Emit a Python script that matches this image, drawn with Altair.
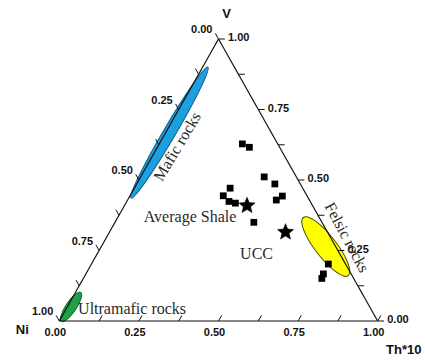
import math
import altair as alt
import pandas as pd

# ---- data (ternary fractions; Ni = 1 - Th*10 - V) ----
sample_th = [0.261, 0.289, 0.388, 0.434, 0.301, 0.293, 0.479, 0.467, 0.321, 0.344, 0.436, 0.744, 0.746, 0.749]
sample_v = [0.628, 0.616, 0.511, 0.486, 0.471, 0.444, 0.443, 0.429, 0.424, 0.418, 0.350, 0.202, 0.167, 0.151]

ref_names = ["Average Shale", "UCC"]
ref_th = [0.385, 0.553]
ref_v = [0.409, 0.315]

field_names = ["Mafic rocks", "Felsic rocks", "Ultramafic rocks"]
field_th = [0.012, 0.705, 0.012]
field_v = [0.668, 0.264, 0.050]

tick_values = [0.0, 0.125, 0.25, 0.375, 0.5, 0.625, 0.75, 0.875, 1.0]
label_values = [0.0, 0.25, 0.5, 0.75, 1.0]
axis_titles = ["V", "Ni", "Th*10"]
vertex_th = [0.0, 0.0, 1.0]
vertex_v = [1.0, 0.0, 0.0]

# ---- scales ----
XS = alt.Scale(domain=[-0.18625, 1.14855], nice=False, zero=False)
YS = alt.Scale(domain=[-0.14184, 1.13830], nice=False, zero=False)
XCALC = "datum.th + datum.v / 2"


def X(f="x"):
    return alt.X(f"{f}:Q", scale=XS, axis=None)


def Y(f="y"):
    return alt.Y(f"{f}:Q", scale=YS, axis=None)


TICKFONT = dict(font="Liberation Sans", fontSize=11, fontWeight="bold", color="#111")
SERIF = dict(font="Liberation Serif", fontSize=16, color="#2a2a2a")


def ellipse_path(r):
    k = 0.5523
    kr = k * r
    return (f"M-1,0 C-1,{-kr:.4f} {-k},{-r:.4f} 0,{-r:.4f} C{k},{-r:.4f} 1,{-kr:.4f} 1,0 "
            f"C1,{kr:.4f} {k},{r:.4f} 0,{r:.4f} C{-k},{r:.4f} -1,{kr:.4f} -1,0 Z")


def star_path(inner):
    pts = []
    for i in range(10):
        a = math.radians(-90 + 36 * i)
        rr = 1.0 if i % 2 == 0 else inner
        pts.append(f"{rr * math.cos(a):.4f},{rr * math.sin(a):.4f}")
    return "M" + " L".join(pts) + " Z"


def rot_offset(sx, sy, angle):
    t = math.radians(angle)
    return sx * math.cos(t) + sy * math.sin(t), -sx * math.sin(t) + sy * math.cos(t)


fields = pd.DataFrame({"name": field_names, "th": field_th, "v": field_v})
base_f = alt.Chart(fields).transform_calculate(x=XCALC, y="datum.v")

mafic = base_f.transform_filter("datum.name == 'Mafic rocks'").mark_point(
    shape=ellipse_path(0.08), size=23100, angle=300.4, filled=True,
    fill="#1E9FE0", stroke="#0B5C8C", strokeWidth=1, opacity=1
).encode(x=X(), y=Y())
felsic = base_f.transform_filter("datum.name == 'Felsic rocks'").mark_point(
    shape=ellipse_path(0.29), size=5400, angle=52.3, filled=True,
    fill="#FFFF00", stroke="#4a4a10", strokeWidth=1, opacity=1
).encode(x=X(), y=Y())
ultra = base_f.transform_filter("datum.name == 'Ultramafic rocks'").mark_point(
    shape=ellipse_path(0.3), size=1220, angle=303.6, filled=True,
    fill="#20A046", stroke="#137030", strokeWidth=1, opacity=1
).encode(x=X(), y=Y())

# triangle edges
edges = pd.DataFrame({
    "th": vertex_th, "v": vertex_v,
    "th2": vertex_th[1:] + vertex_th[:1], "v2": vertex_v[1:] + vertex_v[:1],
})
tri = alt.Chart(edges).transform_calculate(
    x=XCALC, y="datum.v", x2="datum.th2 + datum.v2 / 2", y2="datum.v2"
).mark_rule(color="#111", strokeWidth=1.2).encode(
    x=X(), y=Y(), x2="x2:Q", y2="y2:Q"
)

d = 0.02
tv = pd.DataFrame({"t": tick_values})
bottom_ticks = alt.Chart(tv).transform_calculate(
    x="datum.t", y="0", x2=f"datum.t + {d}/2", y2=f"{d}"
).mark_rule(color="#111", strokeWidth=1).encode(x=X(), y=Y(), x2="x2:Q", y2="y2:Q")
left_ticks = alt.Chart(tv).transform_calculate(
    x="(1 - datum.t) / 2", y="1 - datum.t",
    x2=f"(1 - datum.t) / 2 - {d}/2", y2=f"1 - datum.t + {d}"
).mark_rule(color="#111", strokeWidth=1).encode(x=X(), y=Y(), x2="x2:Q", y2="y2:Q")
right_ticks = alt.Chart(tv).transform_calculate(
    x="1 - datum.t / 2", y="datum.t",
    x2=f"1 - datum.t / 2 + {d}", y2="datum.t"
).mark_rule(color="#111", strokeWidth=1).encode(x=X(), y=Y(), x2="x2:Q", y2="y2:Q")

lv = pd.DataFrame({"t": label_values, "lab": [f"{t:.2f}" for t in label_values]})
bottom_labels = alt.Chart(lv).transform_calculate(x="datum.t", y="0").mark_text(
    align="center", baseline="middle", dx=-4, dy=12, **TICKFONT
).encode(x=X(), y=Y(), text="lab:N")
left_labels = alt.Chart(lv).transform_calculate(x="(1 - datum.t) / 2", y="1 - datum.t").mark_text(
    align="right", baseline="middle", dx=-6, dy=-9, **TICKFONT
).encode(x=X(), y=Y(), text="lab:N")
right_labels = alt.Chart(lv).transform_calculate(x="1 - datum.t / 2", y="datum.t").mark_text(
    align="left", baseline="middle", dx=9.5, dy=-1, **TICKFONT
).encode(x=X(), y=Y(), text="lab:N")

# axis titles at the vertices
tt = pd.DataFrame({"name": axis_titles, "th": vertex_th, "v": vertex_v})
tbase = alt.Chart(tt).transform_calculate(x=XCALC, y="datum.v")
TF = dict(font="Liberation Sans", fontSize=13, fontWeight="bold", color="#111", baseline="middle", align="center")
title_v = tbase.transform_filter("datum.name == 'V'").mark_text(dx=8, dy=-25, **TF).encode(x=X(), y=Y(), text="name:N")
title_ni = tbase.transform_filter("datum.name == 'Ni'").mark_text(dx=-37, dy=9, **TF).encode(x=X(), y=Y(), text="name:N")
title_th = tbase.transform_filter("datum.name == 'Th*10'").mark_text(dx=26, dy=29, **TF).encode(x=X(), y=Y(), text="name:N")

# samples
samples = pd.DataFrame({"th": sample_th, "v": sample_v})
pts = alt.Chart(samples).transform_calculate(x=XCALC, y="datum.v").mark_square(
    size=46, color="#000", opacity=1
).encode(x=X(), y=Y())

refs = pd.DataFrame({"name": ref_names, "th": ref_th, "v": ref_v})
rbase = alt.Chart(refs).transform_calculate(x=XCALC, y="datum.v")
stars = rbase.mark_point(shape=star_path(0.45), filled=True, size=290, fill="#000",
                         stroke="#000", strokeWidth=0.5, opacity=1).encode(x=X(), y=Y())
shale_lab = rbase.transform_filter("datum.name == 'Average Shale'").mark_text(
    align="center", baseline="middle", dx=-57, dy=11, **SERIF
).encode(x=X(), y=Y(), text="name:N")
ucc_lab = rbase.transform_filter("datum.name == 'UCC'").mark_text(
    align="center", baseline="middle", dx=-29, dy=22, **SERIF
).encode(x=X(), y=Y(), text="name:N")

MA = 300.8
mdx, mdy = rot_offset(8, 14, MA)
mafic_lab = base_f.transform_filter("datum.name == 'Mafic rocks'").mark_text(
    align="center", baseline="middle", dx=mdx, dy=mdy, angle=MA, **SERIF
).encode(x=X(), y=Y(), text="name:N")
FA = 61.8
fdx, fdy = rot_offset(21, -9, FA)
felsic_lab = base_f.transform_filter("datum.name == 'Felsic rocks'").mark_text(
    align="center", baseline="middle", dx=fdx, dy=fdy, angle=FA, **SERIF
).encode(x=X(), y=Y(), text="name:N")
ultra_lab = base_f.transform_filter("datum.name == 'Ultramafic rocks'").mark_text(
    align="left", baseline="middle", dx=7, dy=2, **SERIF
).encode(x=X(), y=Y(), text="name:N")

chart = alt.layer(
    mafic, felsic, ultra, tri, bottom_ticks, left_ticks, right_ticks,
    bottom_labels, left_labels, right_labels, title_v, title_ni, title_th,
    pts, stars, shale_lab, ucc_lab, mafic_lab, felsic_lab, ultra_lab
).properties(
    width=425, height=361, autosize="none", padding=0, background="white"
).configure_view(stroke=None)

chart.save("out.html", embed_options={"renderer": "svg", "actions": False})
